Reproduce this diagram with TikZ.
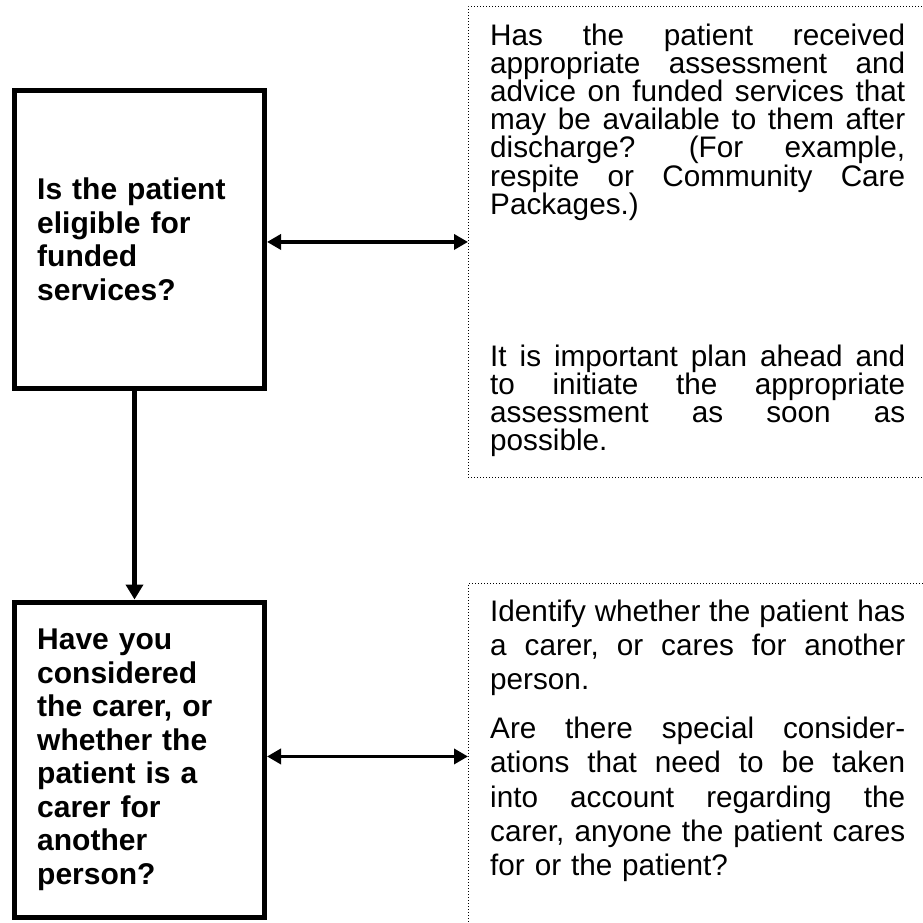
\documentclass[tikz,border=0pt]{standalone}
\usepackage{fontspec}
\setmainfont{Liberation Sans}
\usetikzlibrary{arrows.meta}
\newcommand{\jline}[1]{\noindent\hbox to 415pt{#1}}
\begin{document}
\begin{tikzpicture}[x=1pt,y=-1pt,
  qbox/.style={draw, line width=5pt, minimum width=250pt, inner sep=0pt, anchor=north west},
  infobox/.style={draw, line width=0.9pt, dash pattern=on 0.9pt off 2.1pt, inner sep=0pt, anchor=north west, minimum width=462pt},
  qtext/.style={anchor=west, inner sep=0pt, text width=225pt, align=left, font=\fontsize{30}{33.5}\selectfont\bfseries},
  itext/.style={anchor=base west, inner sep=0pt, text width=415pt, font=\fontsize{29.7}{28.2}\selectfont},
  itextb/.style={anchor=base west, inner sep=0pt, text width=415pt, font=\fontsize{29.7}{34.3}\selectfont},
  vlink/.style={line width=5.5pt, -{Triangle[length=15pt,width=17pt]}},
  hlink/.style={line width=3.5pt, {Triangle[length=14pt,width=15pt]}-{Triangle[length=14pt,width=15pt]}},
]
\useasboundingbox (0,0) rectangle (923,922);
\fill[white] (0,0) rectangle (923,922);

% question boxes
\node[qbox, minimum height=297.5pt] (box1) at (12,88) {};
\node[qbox, minimum height=315.5pt] (box2) at (12,599.5) {};

% information boxes
\node[infobox, minimum height=471pt] (infoA) at (468,6) {};
\node[infobox, minimum height=346pt] (infoB) at (468,583) {};

% question texts
\node[qtext] (q1) at ([xshift=25pt]box1.west) {Is the patient\\eligible for\\funded\\services?};
\node[qtext] (q2) at ([xshift=25pt]box2.west) {Have you\\considered\\the carer, or\\whether the\\patient is a\\carer for\\another\\person?};

% information texts
\node[itext] (t1) at (490,45) {%
\jline{Has\hfill the\hfill patient\hfill received}\\
\jline{appropriate\hfill assessment\hfill and}\\
\jline{advice\hfill on\hfill funded\hfill services\hfill that}\\
\jline{may\hfill be\hfill available\hfill to\hfill them\hfill after}\\
\jline{discharge?\hspace{12pt}\hfill(For\hfill example,}\\
\jline{respite\hfill or\hfill Community\hfill Care}\\
Packages.)\\[123.8pt]
\jline{It\hfill is\hfill important\hfill plan\hfill ahead\hfill and}\\
\jline{to\hfill initiate\hfill the\hfill appropriate}\\
\jline{assessment\hfill as\hfill soon\hfill as}\\
possible.};

\node[itextb] (t2) at (490,621) {%
\jline{Identify\hfill whether\hfill the\hfill patient\hfill has}\\
\jline{a\hfill carer,\hfill or\hfill cares\hfill for\hfill another}\\
person.\\[14.7pt]
\jline{Are\hfill there\hfill special\hfill consider-}\\
\jline{ations\hfill that\hfill need\hfill to\hfill be\hfill taken}\\
\jline{into\hfill account\hfill regarding\hfill the}\\
\jline{carer,\hfill anyone\hfill the\hfill patient\hfill cares}\\
for or the patient?};

% connectors
\draw[vlink] ([xshift=-5pt]box1.south) -- ([xshift=-5pt]box2.north);
\draw[hlink] (box1.east |- infoA.west) -- (infoA.west);
\draw[hlink] (box2.east |- infoB.west) -- (infoB.west);
\end{tikzpicture}
\end{document}
